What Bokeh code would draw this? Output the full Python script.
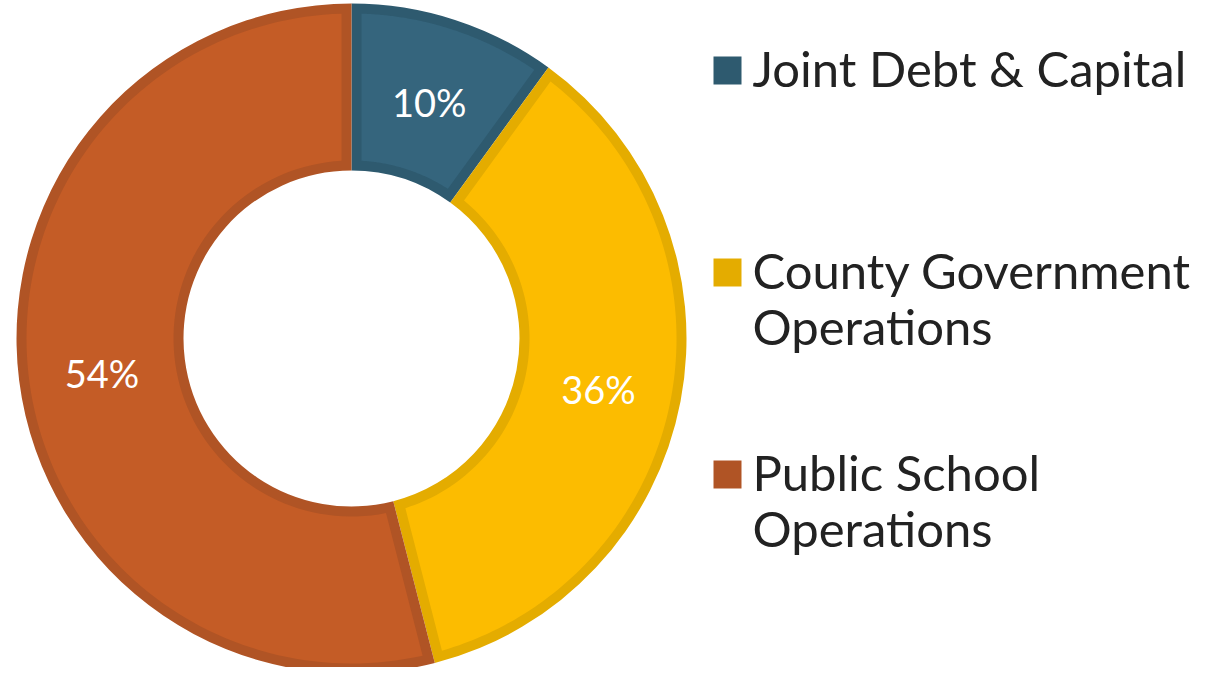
import numpy as np
from bokeh.plotting import figure
from bokeh.models import Range1d
from bokeh.core.properties import value
from bokeh.embed import file_html
from bokeh.resources import INLINE

# ---- data ----
categories = ["Joint Debt & Capital", "County Government\nOperations", "Public School\nOperations"]
shares = [10, 36, 54]
pct_labels = ["10%", "36%", "54%"]
fill_colors = ["#35657d", "#fcbc00", "#c45c26"]
edge_colors = ["#2e5a6f", "#e4ac00", "#b05425"]

# ---- layout (page pixels, y measured downward then flipped) ----
PAGE_H = 675
W, H = 1209, 667
p = figure(width=W, height=H, x_range=Range1d(0, W), y_range=Range1d(PAGE_H - H, PAGE_H),
           output_backend="svg", toolbar_location=None, min_border=0)
p.axis.visible = False
p.grid.visible = False
p.outline_line_color = None
p.background_fill_color = "white"
p.border_fill_color = "white"

cx, cy = 351, PAGE_H - 338
r_out, r_in, d = 335, 168, 10

total = float(sum(shares))
theta = np.concatenate([[0], np.cumsum(shares) / total * 2 * np.pi])  # clockwise from top
start = np.pi / 2 - theta[1:]
end = np.pi / 2 - theta[:-1]

# darker full slices (borders)
p.annular_wedge(x=[cx] * 3, y=[cy] * 3, inner_radius=r_in, outer_radius=r_out,
                start_angle=list(start), end_angle=list(end), fill_color=edge_colors, line_color=None)

# lighter inset slices
xs, ys = [], []
for a0, a1 in zip(start, end):
    Ro, Ri = r_out - d, r_in + d
    ao = np.linspace(a0 + np.arcsin(d / Ro), a1 - np.arcsin(d / Ro), 120)
    ai = np.linspace(a1 - np.arcsin(d / Ri), a0 + np.arcsin(d / Ri), 80)
    xs.append(list(np.concatenate([cx + Ro * np.cos(ao), cx + Ri * np.cos(ai)])))
    ys.append(list(np.concatenate([cy + Ro * np.sin(ao), cy + Ri * np.sin(ai)])))
p.patches(xs=xs, ys=ys, fill_color=fill_colors, line_color=None)

# percent labels at mid radius / mid angle
mid = (start + end) / 2
rm = (r_in + r_out) / 2
p.text(x=list(cx + rm * np.cos(mid)), y=list(cy + rm * np.sin(mid) - 3), text=pct_labels,
       text_align="center", text_baseline="middle", text_color="white",
       text_font=value("Lato"), text_font_size="38px")

# legend
sq_x, sq_size, txt_x = 727, 28, 752
leg_y0, leg_step, line_h = 70, 202, 56
sq_y = [PAGE_H - (leg_y0 + i * leg_step) for i in range(len(categories))]
p.rect(x=[sq_x] * len(categories), y=sq_y, width=sq_size, height=sq_size,
       fill_color=edge_colors, line_color=None)
tx, ty, tt = [], [], []
for i, cat in enumerate(categories):
    for j, line in enumerate(cat.split("\n")):
        tx.append(txt_x)
        ty.append(PAGE_H - (leg_y0 + i * leg_step - 3 + j * line_h))
        tt.append(line)
p.text(x=tx, y=ty, text=tt, text_align="left", text_baseline="alphabetic",
       text_color="#222222", text_font=value("Lato"), text_font_size="49px")

open("out.html", "w").write(file_html(p, INLINE))
